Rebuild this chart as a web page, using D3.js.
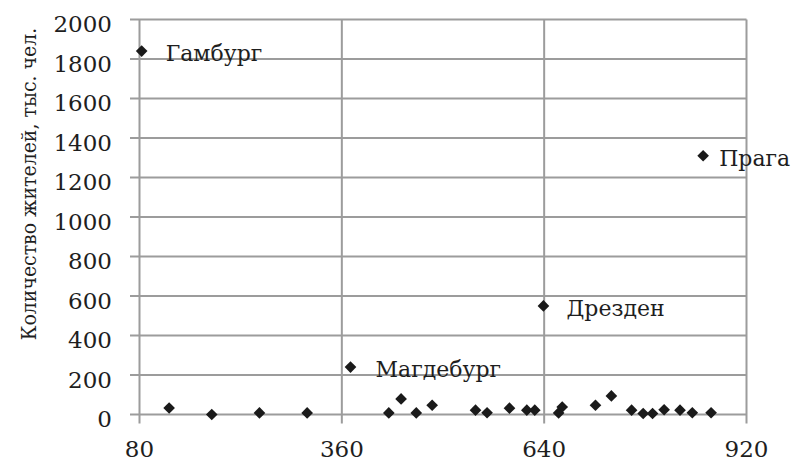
<!DOCTYPE html>
<html><head><meta charset="utf-8">
<script src="https://cdn.jsdelivr.net/npm/d3@7"></script>
<style>
html,body{margin:0;padding:0;background:#fff;}
svg text{font-family:"DejaVu Serif",serif;fill:#1e1e1e;}
svg text.ttl{font-family:"DejaVu Serif Condensed","DejaVu Serif",serif;}
</style></head>
<body><svg id="c" width="793" height="463"></svg>
<script>
const xTicks = [80, 360, 640, 920];
const yTicks = [0, 200, 400, 600, 800, 1000, 1200, 1400, 1600, 1800, 2000];
const xValues = [83, 121, 180, 246, 312, 372, 425, 442, 463, 485, 545, 561, 592, 616, 627, 639, 660, 665, 711, 733, 761, 777, 790, 806, 828, 845, 860, 871];
const yValues = [1840, 33, 0, 8, 8, 240, 8, 79, 8, 47, 22, 9, 32, 22, 22, 550, 8, 38, 47, 94, 22, 5, 5, 24, 22, 9, 1310, 9];
const labelNames = ["Гамбург", "Магдебург", "Дрезден", "Прага"];
const labelX = [83, 372, 639, 860];
const labelY = [1840, 240, 550, 1310];
const yTitle = "Количество жителей, тыс. чел.";

const svg = d3.select("#c");
const x = d3.scaleLinear().domain([80, 920]).range([139.5, 746.5]);
const y = d3.scaleLinear().domain([0, 2000]).range([414.5, 19.5]);
const grid = "#9c9c9c";

svg.append("g").selectAll("line").data(yTicks).join("line")
  .attr("x1", 130).attr("x2", x(920))
  .attr("y1", d => y(d)).attr("y2", d => y(d))
  .attr("stroke", grid).attr("stroke-width", 2);
svg.append("g").selectAll("line").data(xTicks).join("line")
  .attr("x1", d => x(d)).attr("x2", d => x(d))
  .attr("y1", y(2000)).attr("y2", y(0) + 9)
  .attr("stroke", grid).attr("stroke-width", 2);

svg.append("g").selectAll("text").data(yTicks).join("text")
  .attr("x", 112).attr("y", d => y(d) + 12.5)
  .attr("text-anchor", "end").attr("font-size", 23)
  .text(d => d);
svg.append("g").selectAll("text").data(xTicks).join("text")
  .attr("x", d => x(d)).attr("y", 457)
  .attr("text-anchor", "middle").attr("font-size", 23)
  .text(d => d);

svg.append("text").attr("class", "ttl")
  .attr("transform", "translate(36,184) rotate(-90)")
  .attr("text-anchor", "middle").attr("font-size", 21)
  .text(yTitle);

const pts = xValues.map((v, i) => [v, yValues[i]]);
svg.append("g").selectAll("path").data(pts).join("path")
  .attr("d", d3.symbol().type(d3.symbolSquare).size(68))
  .attr("transform", d => `translate(${x(d[0])},${y(d[1])}) rotate(45)`)
  .attr("fill", "#1a1a1a");

const labelGap = [24, 25, 23, 16];
svg.append("g").selectAll("text").data(labelNames).join("text")
  .attr("x", (d, i) => x(labelX[i]) + labelGap[i])
  .attr("y", (d, i) => y(labelY[i]) + 10)
  .attr("font-size", 22)
  .text(d => d);
</script></body></html>
